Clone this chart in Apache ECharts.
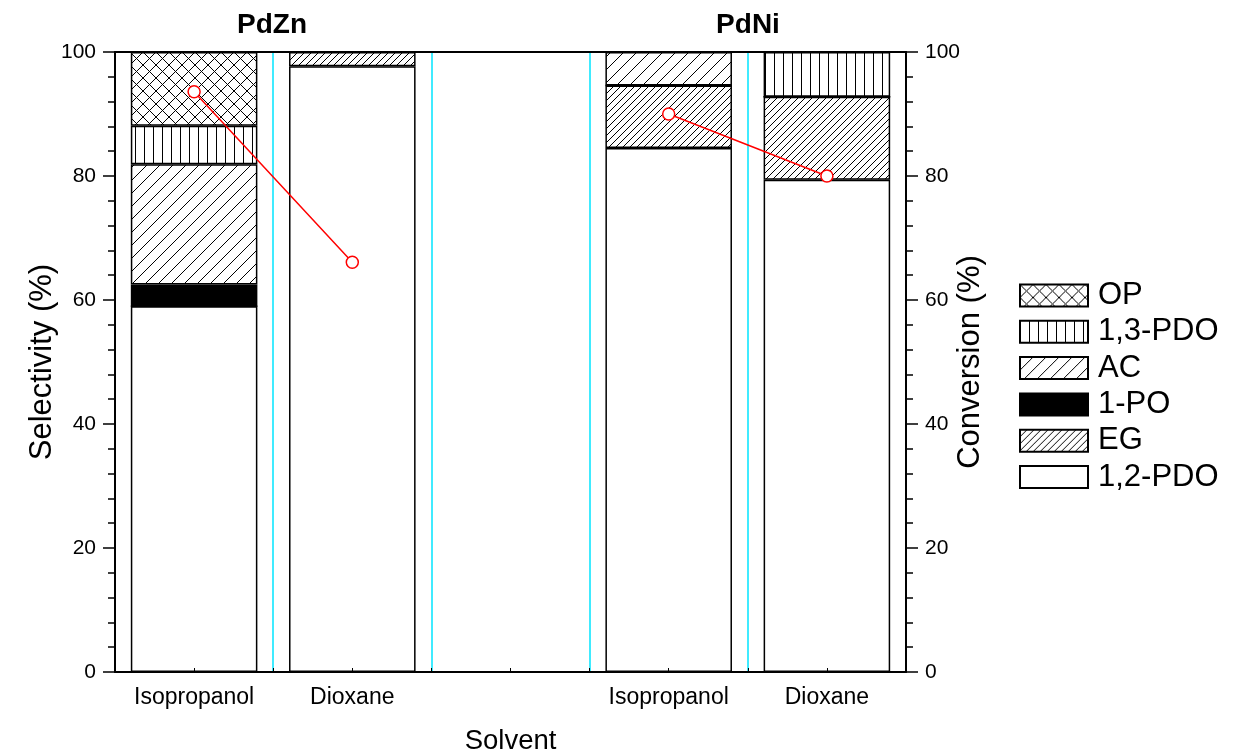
<!DOCTYPE html>
<html>
<head>
<meta charset="UTF-8">
<title>Selectivity and conversion</title>
<script src="https://cdn.jsdelivr.net/npm/echarts@6/dist/echarts.min.js"></script>
<style>
  html, body { margin: 0; padding: 0; background: #fff; }
  #main { width: 1234px; height: 754px; }
</style>
</head>
<body>
<div id="main"></div>
<script type="text/javascript">
// solvent slots (the empty one separates PdZn and PdNi)
var solvents = ['Isopropanol', 'Dioxane', '', 'Isopropanol', 'Dioxane'];
var catalysts = ['PdZn', 'PdNi'];

// selectivity (%), stacked bottom to top
var pdo12 = [59.0, 97.7, null, 84.5, 79.4];
var eg    = [0,    2.3,  null, 10.1, 13.4];
var po1   = [3.5,  0,    null, 0,    0];
var ac    = [19.4, 0,    null, 5.4,  0];
var pdo13 = [6.2,  0,    null, 0,    7.2];
var op    = [11.9, 0,    null, 0,    0];

// conversion (%)
var conversion = [93.6, 66.1, null, 90.0, 80.0];

var legendOrder = ['OP', '1,3-PDO', 'AC', '1-PO', 'EG', '1,2-PDO'];

var FONT = "'Liberation Sans', Arial, sans-serif";

// hatch tiles
function tile(size, draw) {
    var c = document.createElement('canvas');
    c.width = size; c.height = size;
    var g = c.getContext('2d');
    g.fillStyle = '#fff';
    g.fillRect(0, 0, size, size);
    g.strokeStyle = '#000';
    g.lineWidth = 1;
    g.beginPath();
    draw(g, size);
    g.stroke();
    return { image: c, repeat: 'repeat' };
}
function slash(g, p) {
    for (var k = -1; k <= 1; k++) {
        g.moveTo(k * p - 1, p + 1);
        g.lineTo(k * p + p + 1, -1);
    }
}
function backslash(g, p) {
    for (var k = -1; k <= 1; k++) {
        g.moveTo(k * p - 1, -1);
        g.lineTo(k * p + p + 1, p + 1);
    }
}
var fillOP = tile(13, function (g, p) { slash(g, p); backslash(g, p); });
var fillPDO13 = tile(9, function (g, p) { g.moveTo(0.5, 0); g.lineTo(0.5, p); });
var fillAC = tile(13, slash);
var fillEG = tile(7, slash);

function barSeries(name, data, fill) {
    return {
        name: name,
        type: 'bar',
        stack: 'sel',
        barWidth: '80%',
        data: data,
        itemStyle: { color: fill, borderColor: '#000', borderWidth: 1.5 },
        emphasis: { disabled: true }
    };
}

function yAxis(name, pos, gap) {
    return {
        type: 'value', min: 0, max: 100, interval: 20, position: pos,
        name: name,
        nameLocation: 'middle',
        nameGap: gap,
        nameMoveOverlap: false,
        nameTextStyle: { fontFamily: FONT, fontSize: 31, color: '#000' },
        axisLine: { show: true, onZero: false, lineStyle: { color: '#000', width: 2 } },
        axisTick: { show: true, length: 12, lineStyle: { color: '#000', width: 1.5 } },
        minorTick: { show: true, splitNumber: 5, length: 7, lineStyle: { color: '#000', width: 1.5 } },
        axisLabel: { fontFamily: FONT, fontSize: 21, color: '#000', margin: 19 },
        splitLine: { show: false }
    };
}

var chart = echarts.init(document.getElementById('main'));
var option = {
    animation: false,
    textStyle: { fontFamily: FONT },
    title: [
        { text: catalysts[0], left: 267, top: 6, textAlign: 'center',
          textStyle: { fontFamily: FONT, fontSize: 28, fontWeight: 'bold', color: '#000' } },
        { text: catalysts[1], left: 743, top: 6, textAlign: 'center',
          textStyle: { fontFamily: FONT, fontSize: 28, fontWeight: 'bold', color: '#000' } }
    ],
    legend: {
        orient: 'vertical',
        left: 1019,
        top: 280,
        padding: 0,
        itemWidth: 68,
        itemHeight: 22,
        itemGap: 5.3,
        icon: 'rect',
        data: legendOrder,
        textStyle: { fontFamily: FONT, fontSize: 31, color: '#000', padding: [0, 0, 0, 5] }
    },
    grid: { left: 115, right: 328, top: 52, bottom: 82, outerBoundsMode: 'none' },
    xAxis: [
        {
            type: 'category',
            data: solvents,
            boundaryGap: true,
            name: 'Solvent',
            nameLocation: 'middle',
            nameGap: 55,
            nameMoveOverlap: false,
            nameTextStyle: { fontFamily: FONT, fontSize: 27.5, color: '#000' },
            axisLine: { onZero: false, lineStyle: { color: '#000', width: 2 } },
            axisTick: { show: false },
            axisLabel: { fontFamily: FONT, fontSize: 23, color: '#000', margin: 14, interval: 0 },
            splitLine: { show: true, interval: 0, lineStyle: { color: '#00e5ff', width: 1.5 } }
        },
        {
            type: 'value', min: 0, max: 10, interval: 1, position: 'bottom', z: 10,
            axisLine: { show: false, onZero: false },
            axisTick: { show: true, inside: true, length: 4, lineStyle: { color: '#000' } },
            axisLabel: { show: false },
            splitLine: { show: false }
        },
        {
            type: 'value', min: 0, max: 10, position: 'top', z: 10,
            axisLine: { show: true, onZero: false, lineStyle: { color: '#000', width: 2 } },
            axisTick: { show: false },
            axisLabel: { show: false },
            splitLine: { show: false }
        }
    ],
    yAxis: [
        yAxis('Selectivity (%)', 'left', 57),
        yAxis('Conversion (%)', 'right', 49)
    ],
    series: [
        barSeries('1,2-PDO', pdo12, '#fff'),
        barSeries('EG', eg, fillEG),
        barSeries('1-PO', po1, '#000'),
        barSeries('AC', ac, fillAC),
        barSeries('1,3-PDO', pdo13, fillPDO13),
        barSeries('OP', op, fillOP),
        {
            name: 'Conversion',
            type: 'line',
            yAxisIndex: 1,
            data: conversion,
            connectNulls: false,
            symbol: 'circle',
            symbolSize: 12,
            z: 5,
            lineStyle: { color: '#ff0000', width: 1.5 },
            itemStyle: { color: '#fff', borderColor: '#ff0000', borderWidth: 1.5 },
            emphasis: { disabled: true }
        }
    ]
};
chart.setOption(option);
</script>
</body>
</html>
